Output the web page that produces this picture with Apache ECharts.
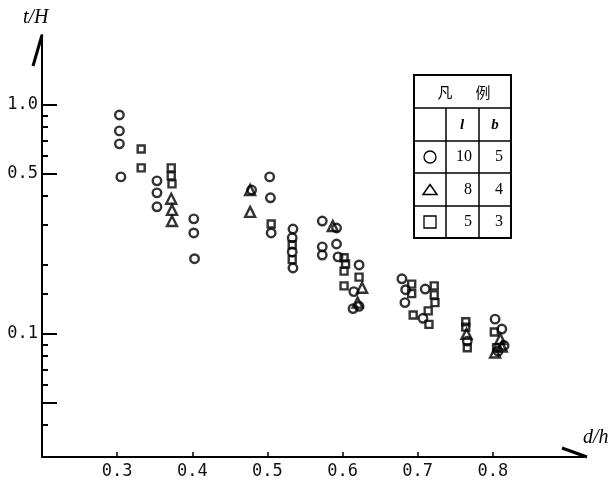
<!DOCTYPE html>
<html><head><meta charset="utf-8">
<script src="https://cdn.jsdelivr.net/npm/echarts@6/dist/echarts.min.js"></script>
<style>html,body{margin:0;padding:0;background:#fff}#c{width:615px;height:486px}</style>
</head><body><div id="c"></div>
<script>
// ---- data (d/h, t/H) ----
const circles = [
  [0.303,0.904],[0.303,0.77],[0.303,0.676],[0.305,0.485],
  [0.353,0.466],[0.353,0.413],[0.353,0.359],
  [0.402,0.318],[0.402,0.276],[0.403,0.213],
  [0.479,0.425],
  [0.503,0.485],[0.504,0.393],[0.505,0.276],
  [0.534,0.287],[0.533,0.263],[0.533,0.228],[0.534,0.194],
  [0.573,0.311],[0.592,0.29],[0.573,0.24],[0.573,0.221],[0.592,0.247],[0.594,0.217],
  [0.622,0.2],[0.615,0.153],[0.614,0.129],[0.622,0.132],
  [0.679,0.174],[0.684,0.156],[0.683,0.137],[0.71,0.157],[0.707,0.117],
  [0.766,0.093],[0.803,0.116],[0.812,0.105],[0.815,0.089],[0.807,0.084]
];
const squares = [
  [0.332,0.642],[0.332,0.531],
  [0.372,0.531],[0.372,0.49],[0.373,0.452],
  [0.505,0.302],
  [0.533,0.245],[0.533,0.211],
  [0.602,0.215],[0.604,0.202],[0.602,0.188],[0.602,0.162],
  [0.622,0.177],
  [0.692,0.165],[0.692,0.15],[0.694,0.121],
  [0.722,0.162],[0.722,0.148],[0.723,0.137],[0.714,0.126],[0.715,0.11],
  [0.764,0.113],[0.764,0.107],[0.766,0.087],
  [0.802,0.102],[0.805,0.087]
];
const triangles = [
  [0.372,0.389],[0.373,0.348],[0.373,0.311],
  [0.477,0.425],[0.477,0.341],
  [0.587,0.296],
  [0.626,0.159],[0.62,0.137],
  [0.765,0.1],
  [0.81,0.095],[0.803,0.083],[0.812,0.088]
];
const xTicks = [0.3,0.4,0.5,0.6,0.7,0.8];
const yMajorTicks = [0.05,0.1,0.5,1.0];
const yLabels = [0.1,0.5,1.0];
const yMinorTicks = [0.04,0.06,0.07,0.08,0.09,0.15,0.2,0.3,0.4,0.6,0.7,0.8,0.9];
const legendHead = ['凡','例'];
const legendCols = ['l','b'];
const legendL = [10,8,5];
const legendB = [5,4,3];

const chart = echarts.init(document.getElementById('c'));
const ink = '#000';
const labelFont = {fontFamily:'DejaVu Sans Mono', fontSize:17, color:'#111'};
const yMin = 0.029, yMax = 2.02;
const pointStyle = {color:'transparent', borderColor:ink, borderWidth:2.4};

// legend table graphics
const tx = [414,446,479,511], ty = [75,108,141,173,206,238];
const g = [];
g.push({type:'rect', shape:{x:tx[0],y:ty[0],width:tx[3]-tx[0],height:ty[5]-ty[0]}, style:{fill:'none',stroke:ink,lineWidth:2}});
for (let i=1;i<5;i++) g.push({type:'line', shape:{x1:tx[0],y1:ty[i],x2:tx[3],y2:ty[i]}, style:{stroke:ink,lineWidth:1.5}});
for (let i=1;i<3;i++) g.push({type:'line', shape:{x1:tx[i],y1:ty[1],x2:tx[i],y2:ty[5]}, style:{stroke:ink,lineWidth:1.5}});
g.push({type:'text', x:445, y:92, style:{text:legendHead[0], font:'15px "Noto Sans CJK SC"', fill:ink, align:'center', verticalAlign:'middle'}});
g.push({type:'text', x:483, y:92, style:{text:legendHead[1], font:'15px "Noto Sans CJK SC"', fill:ink, align:'center', verticalAlign:'middle'}});
g.push({type:'text', x:462, y:125, style:{text:legendCols[0], font:'italic bold 15px "Liberation Serif"', fill:ink, align:'center', verticalAlign:'middle'}});
g.push({type:'text', x:495, y:125, style:{text:legendCols[1], font:'italic bold 15px "Liberation Serif"', fill:ink, align:'center', verticalAlign:'middle'}});
for (let r=0;r<3;r++){
  const cy = (ty[r+2]+ty[r+3])/2;
  g.push({type:'text', x:472, y:cy, style:{text:String(legendL[r]), font:'16px "Liberation Serif"', fill:ink, align:'right', verticalAlign:'middle'}});
  g.push({type:'text', x:503, y:cy, style:{text:String(legendB[r]), font:'16px "Liberation Serif"', fill:ink, align:'right', verticalAlign:'middle'}});
}
g.push({type:'circle', shape:{cx:430, cy:(ty[2]+ty[3])/2, r:6}, style:{fill:'none', stroke:ink, lineWidth:1.3}});
{ const cy=(ty[3]+ty[4])/2; g.push({type:'polygon', shape:{points:[[430,cy-5],[437,cy+5],[423,cy+5]]}, style:{fill:'none', stroke:ink, lineWidth:1.5}}); }
{ const cy=(ty[4]+ty[5])/2; g.push({type:'rect', shape:{x:424,y:cy-6,width:12,height:12}, style:{fill:'none', stroke:ink, lineWidth:1.3}}); }
// axis names and half arrows
g.push({type:'text', x:23, y:18, style:{text:'t/H', font:'italic 20px "Liberation Serif"', fill:ink, verticalAlign:'middle'}});
g.push({type:'text', x:583, y:438, style:{text:'d/h', font:'italic 20px "Liberation Serif"', fill:ink, verticalAlign:'middle'}});
g.push({type:'line', shape:{x1:33,y1:66,x2:42,y2:35}, style:{stroke:ink,lineWidth:3}});
g.push({type:'line', shape:{x1:562,y1:448,x2:587,y2:457}, style:{stroke:ink,lineWidth:3}});

chart.setOption({
  animation:false,
  backgroundColor:'#fff',
  grid:{left:42, right:32, top:35, bottom:29, containLabel:false},
  xAxis:{type:'value', min:0.2, max:0.92,
    axisLine:{show:true, lineStyle:{color:ink, width:2}},
    axisTick:{show:true, customValues:xTicks, inside:true, length:5, lineStyle:{color:ink,width:1.5}},
    axisLabel:{customValues:xTicks, formatter:v=>v.toFixed(1), margin:6, ...labelFont},
    splitLine:{show:false}},
  yAxis:[
    {type:'log', logBase:10, min:yMin, max:yMax,
     axisLine:{show:true, lineStyle:{color:ink, width:2}},
     axisTick:{show:true, customValues:yMajorTicks, inside:true, length:15, lineStyle:{color:ink,width:2}},
     axisLabel:{customValues:yLabels, formatter:v=>Number(v).toFixed(1), margin:4, ...labelFont},
     splitLine:{show:false}},
    {type:'log', logBase:10, min:yMin, max:yMax, position:'left', offset:0,
     axisLine:{show:false},
     axisTick:{show:true, customValues:yMinorTicks, inside:true, length:6, lineStyle:{color:ink,width:2}},
     axisLabel:{show:false},
     splitLine:{show:false}}
  ],
  graphic:g,
  series:[
    {type:'scatter', data:circles, symbol:'circle', symbolSize:8.5, itemStyle:pointStyle, yAxisIndex:0},
    {type:'scatter', data:squares, symbol:'rect', symbolSize:7, itemStyle:pointStyle, yAxisIndex:0},
    {type:'scatter', data:triangles, symbol:'triangle', symbolSize:10, itemStyle:pointStyle, yAxisIndex:0}
  ]
});
</script></body></html>
